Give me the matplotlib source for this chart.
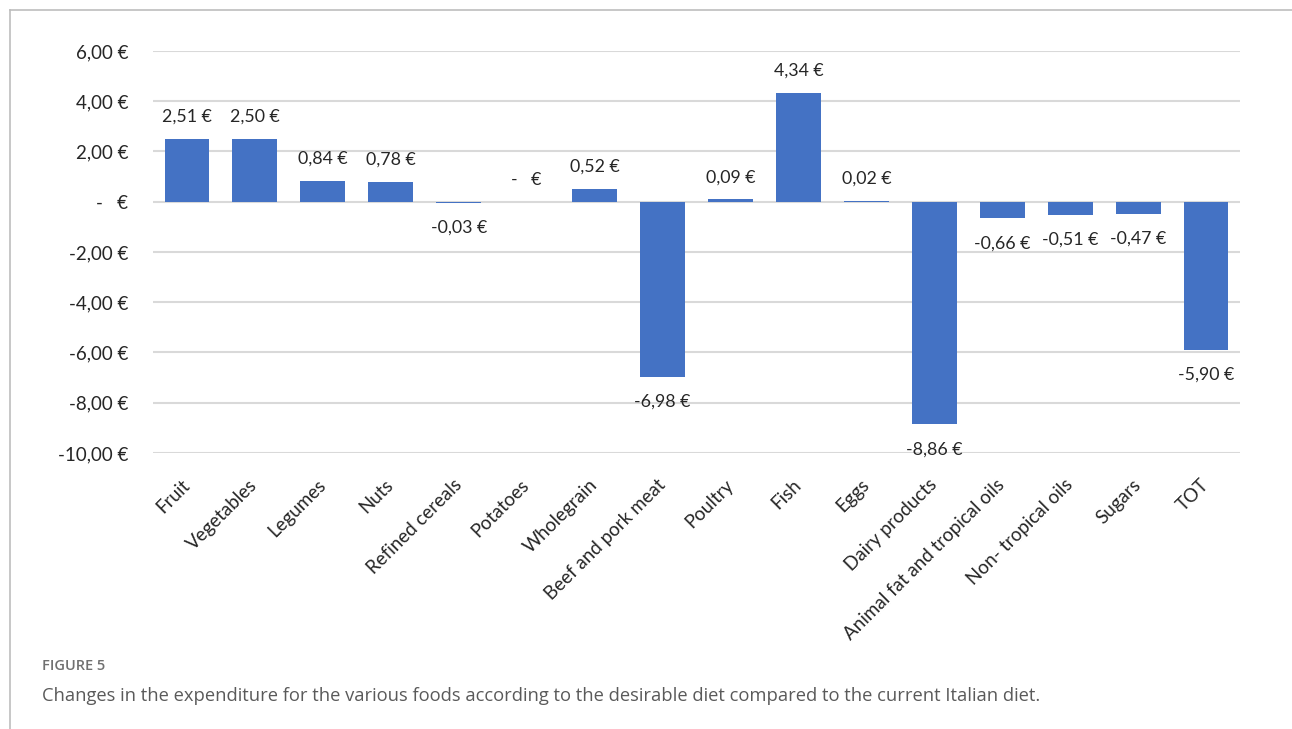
import matplotlib.pyplot as plt
from matplotlib.lines import Line2D

# Expenditure change per food group (euro)
foods = ['Fruit', 'Vegetables', 'Legumes', 'Nuts', 'Refined cereals', 'Potatoes',
         'Wholegrain', 'Beef and pork meat', 'Poultry', 'Fish', 'Eggs',
         'Dairy products', 'Animal fat and tropical oils', 'Non- tropical oils',
         'Sugars', 'TOT']
changes = [2.51, 2.50, 0.84, 0.78, -0.03, 0.00, 0.52, -6.98, 0.09, 4.34, 0.02,
           -8.86, -0.66, -0.51, -0.47, -5.90]
yticks = [6, 4, 2, 0, -2, -4, -6, -8, -10]


def euro(v):
    if round(v, 2) == 0:
        return '-   €'
    return f'{v:.2f}'.replace('.', ',') + ' €'


plt.rcParams['font.family'] = ['Lato', 'DejaVu Sans']

fig = plt.figure(figsize=(12.92, 7.29), dpi=100)
ax = fig.add_axes([153 / 1292, 1 - 453 / 729, 1087 / 1292, 402 / 729])

x = range(len(foods))
ax.bar(x, changes, width=0.66, color='#4472C4', zorder=3)

for xi, v in zip(x, changes):
    if v < 0:
        ax.annotate(euro(v), (xi, v), xytext=(0, -18), textcoords='offset points',
                    ha='center', va='center', fontsize=12.8, color='#262626')
    else:
        ax.annotate(euro(v), (xi, v), xytext=(0, 16), textcoords='offset points',
                    ha='center', va='center', fontsize=12.8, color='#262626')

ax.set_xlim(-0.5, len(foods) - 0.5)
ax.set_ylim(-10, 6)
ax.set_yticks(yticks)
ax.set_yticklabels([euro(t) for t in yticks], fontsize=13.5, color='#262626')
ax.yaxis.grid(True, color='#D9D9D9', linewidth=1.5, zorder=0)
ax.tick_params(axis='y', length=0, pad=18)
ax.set_xticks(list(x))
ax.set_xticklabels(foods, rotation=45, ha='right', va='center',
                   rotation_mode='anchor', fontsize=13.5, color='#262626')
ax.tick_params(axis='x', length=0, pad=21)
for s in ax.spines.values():
    s.set_visible(False)

# figure frame and caption
fig.add_artist(Line2D([10 / 1292, 10 / 1292], [0, 1 - 10 / 729],
                      transform=fig.transFigure, color='#BDBDBD', linewidth=1.2))
fig.add_artist(Line2D([10 / 1292, 1], [1 - 10 / 729, 1 - 10 / 729],
                      transform=fig.transFigure, color='#BDBDBD', linewidth=1.2))
fig.text(42 / 1292, 1 - 666 / 729, 'FIGURE 5', fontsize=10.5, fontweight='semibold',
         color='#707070', family='Open Sans', va='center')
fig.text(42 / 1292, 1 - 696 / 729,
         'Changes in the expenditure for the various foods according to the desirable '
         'diet compared to the current Italian diet.',
         fontsize=13.2, color='#5a5a5a', family='Open Sans', va='center')

fig.savefig('out.png', dpi=100)
